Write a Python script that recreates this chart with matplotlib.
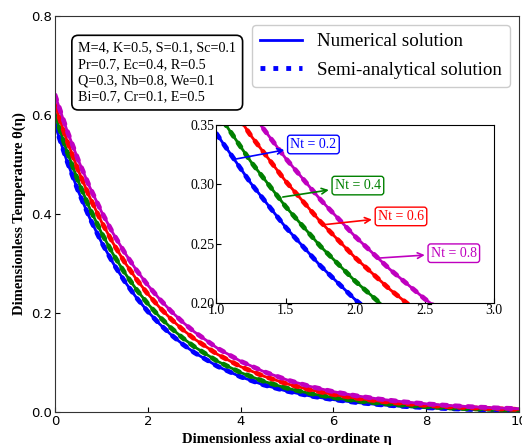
import matplotlib
matplotlib.use("Agg")
import matplotlib.pyplot as plt

eta = [0, 0.25, 0.5, 0.75, 1.0, 1.25, 1.5, 1.75, 2.0, 2.25, 2.5, 2.75, 3.0,
       3.5, 4.0, 4.5, 5.0, 5.5, 6.0, 6.5, 7.0, 7.5, 8.0, 8.5, 9.0, 9.5, 10.0]

theta_nt02 = [0.580, 0.5087, 0.4461, 0.3912, 0.3431, 0.3009, 0.2639, 0.2314, 0.2029,
              0.1780, 0.1561, 0.1369, 0.1201, 0.0923, 0.0710, 0.0546, 0.0420, 0.0323,
              0.0249, 0.0191, 0.0147, 0.0113, 0.0087, 0.0067, 0.0051, 0.0040, 0.0030]
theta_nt04 = [0.600, 0.5288, 0.4661, 0.4108, 0.3621, 0.3191, 0.2813, 0.2479, 0.2185,
              0.1926, 0.1697, 0.1496, 0.1319, 0.1024, 0.0796, 0.0618, 0.0480, 0.0373,
              0.0290, 0.0225, 0.0175, 0.0136, 0.0106, 0.0082, 0.0064, 0.0050, 0.0038]
theta_nt06 = [0.620, 0.5502, 0.4882, 0.4332, 0.3844, 0.3411, 0.3027, 0.2686, 0.2383,
              0.2115, 0.1877, 0.1665, 0.1478, 0.1164, 0.0916, 0.0722, 0.0568, 0.0447,
              0.0352, 0.0277, 0.0218, 0.0172, 0.0135, 0.0107, 0.0084, 0.0066, 0.0052]
theta_nt08 = [0.640, 0.5708, 0.5090, 0.4539, 0.4048, 0.3610, 0.3220, 0.2872, 0.2561,
              0.2284, 0.2036, 0.1816, 0.1620, 0.1288, 0.1025, 0.0815, 0.0648, 0.0515,
              0.0410, 0.0326, 0.0259, 0.0206, 0.0164, 0.0130, 0.0104, 0.0082, 0.0066]

series = [theta_nt02, theta_nt04, theta_nt06, theta_nt08]
colors = ["blue", "green", "red", "m"]
labels = ["Nt = 0.2", "Nt = 0.4", "Nt = 0.6", "Nt = 0.8"]
# (curve point, label position) in inset data coords
label_pos = [((1.125, 0.321), (1.70, 0.3336)),
             ((1.46, 0.289), (2.02, 0.299)),
             ((1.75, 0.2657), (2.33, 0.273)),
             ((2.144, 0.2377), (2.71, 0.242))]

params = ("M=4, K=0.5, S=0.1, Sc=0.1\nPr=0.7, Ec=0.4, R=0.5\n"
          "Q=0.3, Nb=0.8, We=0.1\nBi=0.7, Cr=0.1, E=0.5")

serif = "Liberation Serif"

fig = plt.figure(figsize=(5.22, 4.45), dpi=100)
ax = fig.add_axes([0.1054, 0.0742, 0.889, 0.890])

for y, c in zip(series, colors):
    ax.plot(eta, y, color=c, lw=2)
    ax.plot(eta, y, color=c, lw=3.5, ls=":", dash_capstyle="round")

ax.set_xlim(0, 10)
ax.set_ylim(0, 0.8)
ax.set_xticks([0, 2, 4, 6, 8, 10])
ax.set_yticks([0.0, 0.2, 0.4, 0.6, 0.8])
ax.tick_params(direction="in", labelsize=9.5, pad=2)
for s in ax.spines.values():
    s.set_color("#333333")
ax.set_xlabel("Dimensionless axial co-ordinate η", family=serif,
              fontweight="bold", fontsize=10.5, labelpad=4)
ax.set_ylabel("Dimensionless Temperature θ(η)", family=serif,
              fontweight="bold", fontsize=10.5, labelpad=4)

ax.text(0.050, 0.935, params, transform=ax.transAxes, family=serif,
        fontsize=10.2, va="top", ha="left", linespacing=1.33,
        bbox=dict(boxstyle="round,pad=0.45", fc="white", ec="black", lw=1.2))

h1, = ax.plot([], [], color="blue", lw=2)
h2, = ax.plot([], [], color="blue", lw=3.5, ls=":")
ax.legend([h1, h2], ["Numerical solution", "Semi-analytical solution"],
          loc="upper right", prop={"family": serif, "size": 13.7},
          handlelength=2.2, borderaxespad=0.5, labelspacing=0.6,
          framealpha=1)

ins = fig.add_axes([0.414, 0.319, 0.5326, 0.40])
for y, c in zip(series, colors):
    ins.plot(eta, y, color=c, lw=2)
    ins.plot(eta, y, color=c, lw=3.5, ls=":", dash_capstyle="round")
ins.set_xlim(1.0, 3.0)
ins.set_ylim(0.20, 0.35)
ins.set_xticks([1.0, 1.5, 2.0, 2.5, 3.0])
ins.set_yticks([0.20, 0.25, 0.30, 0.35])
ins.tick_params(direction="in", labelsize=10, pad=1)
for lab in ins.get_xticklabels() + ins.get_yticklabels():
    lab.set_family(serif)

for (pt, tp), lab, c in zip(label_pos, labels, colors):
    ins.annotate(lab, xy=pt, xytext=tp, color=c, family=serif, fontsize=10,
                 ha="center", va="center",
                 bbox=dict(boxstyle="round,pad=0.2", fc="white", ec=c, lw=1),
                 arrowprops=dict(arrowstyle="<-", color=c, lw=1.2))

fig.savefig("out.png", dpi=100)
